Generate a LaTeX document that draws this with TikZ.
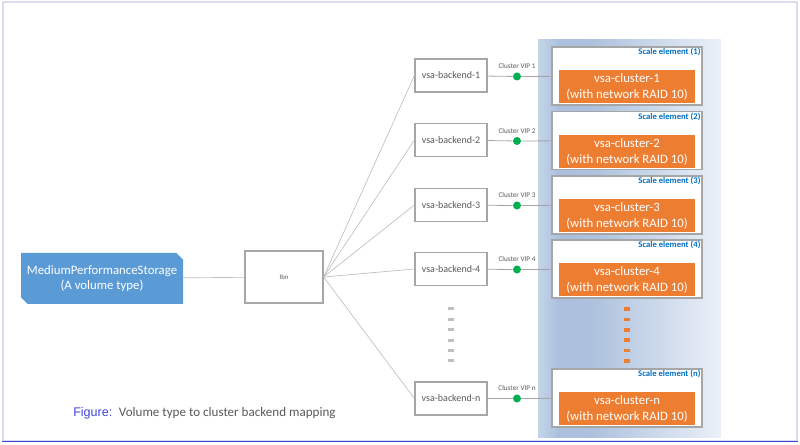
\documentclass[tikz,border=0pt]{standalone}
\usepackage{fontspec}
\setmainfont{Carlito}
\newfontfamily\figfont{Liberation Sans}
\usetikzlibrary{positioning, shapes.misc}

\definecolor{voltypeblue}{HTML}{5B9BD5}
\definecolor{clusterorange}{HTML}{ED7D31}
\definecolor{vipgreen}{HTML}{00B050}
\definecolor{linegray}{HTML}{BFBFBF}
\definecolor{boxgray}{HTML}{A6A6A6}
\definecolor{textgray}{HTML}{595959}
\definecolor{scaleblue}{HTML}{0070C0}
\definecolor{figblue}{HTML}{3D45D8}
\definecolor{framegray}{HTML}{DCDCF0}

\pgfdeclarehorizontalshading{scalepanel}{100bp}{rgb(0bp)=(0.77,0.83,0.91); rgb(25bp)=(0.77,0.83,0.91); rgb(31bp)=(0.67,0.75,0.87); rgb(40bp)=(0.68,0.76,0.87); rgb(75bp)=(0.92,0.94,0.97); rgb(100bp)=(0.92,0.94,0.97)}

\begin{document}
\begin{tikzpicture}[x=0.75pt, y=-0.75pt,
    voltype/.style={chamfered rectangle, chamfered rectangle corners={north east, south west}, chamfered rectangle xsep=2.5pt, chamfered rectangle ysep=2.5pt, fill=voltypeblue, text=white, align=center, font=\fontsize{9.6}{11.5}\selectfont, minimum width=121.5pt, minimum height=38.25pt, inner sep=0pt},
    lbbox/.style={draw=boxgray, line width=0.9pt, fill=white, text=textgray, font=\fontsize{5}{6}\selectfont, minimum width=58.5pt, minimum height=39pt, inner sep=0pt},
    backend/.style={draw=boxgray, line width=0.9pt, fill=white, text=textgray, font=\fontsize{7.5}{9}\selectfont, minimum width=54pt, minimum height=24.75pt, inner sep=0pt},
    vip/.style={circle, fill=vipgreen, inner sep=0pt, minimum size=6pt},
    viplabel/.style={font=\fontsize{5.4}{6}\selectfont, text=textgray, inner sep=1pt, label distance=1.5pt},
    scaleel/.style={draw=boxgray, line width=1.1pt, fill=white, minimum width=112.5pt, minimum height=43.5pt, inner sep=0pt},
    scalelabel/.style={anchor=north east, inner sep=1.5pt, font=\bfseries\fontsize{6.5}{7}\selectfont, text=scaleblue},
    cluster/.style={fill=clusterorange, text=white, align=center, font=\fontsize{9.6}{12}\selectfont, minimum width=102pt, minimum height=24.75pt, inner sep=0pt},
    link/.style={draw=linegray, line width=0.5pt},
    viplink/.style={draw=boxgray, line width=0.6pt}]
    % Frame
    \useasboundingbox (0,0) rectangle (800,445);
    \draw[framegray, line width=0.9pt] (3,2) rectangle (797,441);
    \draw[figblue, line width=1.4pt] (2,441.5) -- (798,441.5);
    
    % Scale panel
    \shade[shading=scalepanel] (538,40) rectangle (721,437);
    
    % Volume type and load balancer
    \node[voltype] (vol) at (102,278.5) {MediumPerformanceStorage\\(A volume type)};
    \node[lbbox] (lbn) at (284,277) {lbn};
    \draw[link] (vol) -- (lbn);
    
    % Backend 1
    \node[backend] (be1) at (451,75.5) {vsa-backend-1};
    \node[vip, label={[viplabel]above:Cluster VIP 1}] (vip1) at (517,76.5) {};
    \node[scaleel, label={[scalelabel]north east:Scale element (1)}] (se1) at (627,76) {};
    \node[cluster, above=1.5pt of se1.south] (vc1) {vsa-cluster-1\\(with network RAID 10)};
    \draw[link] (lbn.east) -- (be1.west);
    \draw[viplink] (be1) -- (vip1) -- (se1);
    
    % Backend 2
    \node[backend] (be2) at (451,140) {vsa-backend-2};
    \node[vip, label={[viplabel]above:Cluster VIP 2}] (vip2) at (517,141) {};
    \node[scaleel, label={[scalelabel]north east:Scale element (2)}] (se2) at (627,140.5) {};
    \node[cluster, above=1.5pt of se2.south] (vc2) {vsa-cluster-2\\(with network RAID 10)};
    \draw[link] (lbn.east) -- (be2.west);
    \draw[viplink] (be2) -- (vip2) -- (se2);
    
    % Backend 3
    \node[backend] (be3) at (451,205) {vsa-backend-3};
    \node[vip, label={[viplabel]above:Cluster VIP 3}] (vip3) at (517,205.5) {};
    \node[scaleel, label={[scalelabel]north east:Scale element (3)}] (se3) at (627,205) {};
    \node[cluster, above=1.5pt of se3.south] (vc3) {vsa-cluster-3\\(with network RAID 10)};
    \draw[link] (lbn.east) -- (be3.west);
    \draw[viplink] (be3) -- (vip3) -- (se3);
    
    % Backend 4
    \node[backend] (be4) at (451,269) {vsa-backend-4};
    \node[vip, label={[viplabel]above:Cluster VIP 4}] (vip4) at (517,269.5) {};
    \node[scaleel, label={[scalelabel]north east:Scale element (4)}] (se4) at (627,269) {};
    \node[cluster, above=1.5pt of se4.south] (vc4) {vsa-cluster-4\\(with network RAID 10)};
    \draw[link] (lbn.east) -- (be4.west);
    \draw[viplink] (be4) -- (vip4) -- (se4);
    
    % Backend n
    \node[backend] (ben) at (451,398.5) {vsa-backend-n};
    \node[vip, label={[viplabel]above:Cluster VIP n}] (vipn) at (517,398.5) {};
    \node[scaleel, label={[scalelabel]north east:Scale element (n)}] (sen) at (627,398) {};
    \node[cluster, above=1.5pt of sen.south] (vcn) {vsa-cluster-n\\(with network RAID 10)};
    \draw[link] (lbn.east) -- (ben.west);
    \draw[viplink] (ben) -- (vipn) -- (sen);
    
    % Ellipsis marks
    \draw[linegray, line width=3.9pt, dash pattern=on 2.2pt off 5.6pt] (be4.south |- 0,307.5) -- (be4.south |- 0,362.5);
    \draw[clusterorange, line width=4.5pt, dash pattern=on 2.6pt off 5.2pt] (se4.south |- 0,307.25) -- (se4.south |- 0,362.75);
    
    \node[anchor=west, inner sep=0pt, text=textgray, font=\fontsize{9.8}{12}\selectfont] (caption) at (73,413) {{\figfont\fontsize{9.4}{12}\selectfont\color{figblue}Figure:}\hspace{5pt}Volume type to cluster backend mapping};
\end{tikzpicture}
\end{document}
